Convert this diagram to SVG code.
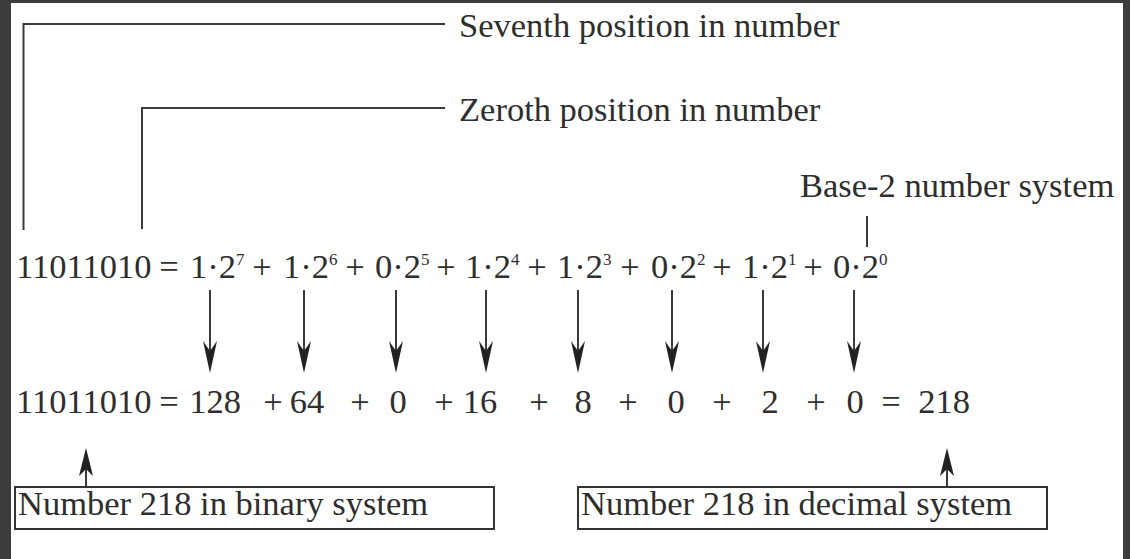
<svg xmlns="http://www.w3.org/2000/svg" width="1130" height="559" viewBox="0 0 1130 559">
<style>
text{font-family:"Liberation Serif","Times New Roman",serif;font-size:34.5px;fill:#2e2e2e}
.m{text-anchor:middle}
.sup{font-size:17px}
.ln{stroke:#3a3a3a;stroke-width:2;fill:none}
.box{stroke:#333;stroke-width:2;fill:#fff}
.ah{fill:#222}
</style>
<defs>
<path id="down" d="M0,0 L-7,-32 L0,-22 L7,-32 Z"/>
<path id="up" d="M0,0 L-7,28 L0,21 L7,28 Z"/>
</defs>
<rect x="0" y="0" width="1130" height="559" fill="#fff"/>
<g id="frame" fill="#3d3d3d">
<rect x="0" y="0" width="11" height="559"/>
<rect x="0" y="0" width="1130" height="3"/>
<rect x="1123" y="0" width="7" height="559"/>
</g>
<g id="connectors">
<path class="ln" d="M23.5,230 V24 H445"/>
<path class="ln" d="M142,229 V108 H445"/>
<path class="ln" d="M867,216 V247"/>
<g id="down-arrows">
<path class="ln" d="M210,290 V352"/><use href="#down" class="ah" x="210" y="373"/>
<path class="ln" d="M304,290 V352"/><use href="#down" class="ah" x="304" y="373"/>
<path class="ln" d="M396,290 V352"/><use href="#down" class="ah" x="396" y="373"/>
<path class="ln" d="M486,290 V352"/><use href="#down" class="ah" x="486" y="373"/>
<path class="ln" d="M578,290 V352"/><use href="#down" class="ah" x="578" y="373"/>
<path class="ln" d="M672,290 V352"/><use href="#down" class="ah" x="672" y="373"/>
<path class="ln" d="M763,290 V352"/><use href="#down" class="ah" x="763" y="373"/>
<path class="ln" d="M854,290 V352"/><use href="#down" class="ah" x="854" y="373"/>
</g>
<path class="ln" d="M86,487 V468"/><use href="#up" class="ah" x="86" y="448"/>
<path class="ln" d="M947,487 V468"/><use href="#up" class="ah" x="947" y="448"/>
</g>
<g id="label-seventh"><text x="459" y="37">Seventh position in number</text></g>
<g id="label-zeroth"><text x="459" y="121">Zeroth position in number</text></g>
<g id="label-base2"><text x="800" y="197">Base-2 number system</text></g>
<g id="row1">
<text x="16" y="278">11011010</text>
<text class="m" x="169" y="278">=</text>
<text x="190" y="278">1·2<tspan class="sup" dy="-13">7</tspan></text>
<text class="m" x="262" y="278">+</text>
<text x="283" y="278">1·2<tspan class="sup" dy="-13">6</tspan></text>
<text class="m" x="355" y="278">+</text>
<text x="375" y="278">0·2<tspan class="sup" dy="-13">5</tspan></text>
<text class="m" x="446" y="278">+</text>
<text x="465" y="278">1·2<tspan class="sup" dy="-13">4</tspan></text>
<text class="m" x="537" y="278">+</text>
<text x="557" y="278">1·2<tspan class="sup" dy="-13">3</tspan></text>
<text class="m" x="630" y="278">+</text>
<text x="651" y="278">0·2<tspan class="sup" dy="-13">2</tspan></text>
<text class="m" x="722" y="278">+</text>
<text x="742" y="278">1·2<tspan class="sup" dy="-13">1</tspan></text>
<text class="m" x="813" y="278">+</text>
<text x="833" y="278">0·2<tspan class="sup" dy="-13">0</tspan></text>
</g>
<g id="row2">
<text x="16" y="413">11011010</text>
<text class="m" x="169" y="413">=</text>
<text class="m" x="215" y="413">128</text>
<text class="m" x="273" y="413">+</text>
<text class="m" x="307" y="413">64</text>
<text class="m" x="360" y="413">+</text>
<text class="m" x="398" y="413">0</text>
<text class="m" x="444" y="413">+</text>
<text class="m" x="480" y="413">16</text>
<text class="m" x="539" y="413">+</text>
<text class="m" x="583" y="413">8</text>
<text class="m" x="628" y="413">+</text>
<text class="m" x="676" y="413">0</text>
<text class="m" x="722" y="413">+</text>
<text class="m" x="770" y="413">2</text>
<text class="m" x="816" y="413">+</text>
<text class="m" x="855" y="413">0</text>
<text class="m" x="891" y="413">=</text>
<text class="m" x="944" y="413">218</text>
</g>
<g id="box-binary">
<rect class="box" x="15" y="487" width="479" height="42"/>
<text x="18" y="515">Number 218 in binary system</text>
</g>
<g id="box-decimal">
<rect class="box" x="578" y="487" width="469" height="42"/>
<text x="581" y="515">Number 218 in decimal system</text>
</g>
</svg>
